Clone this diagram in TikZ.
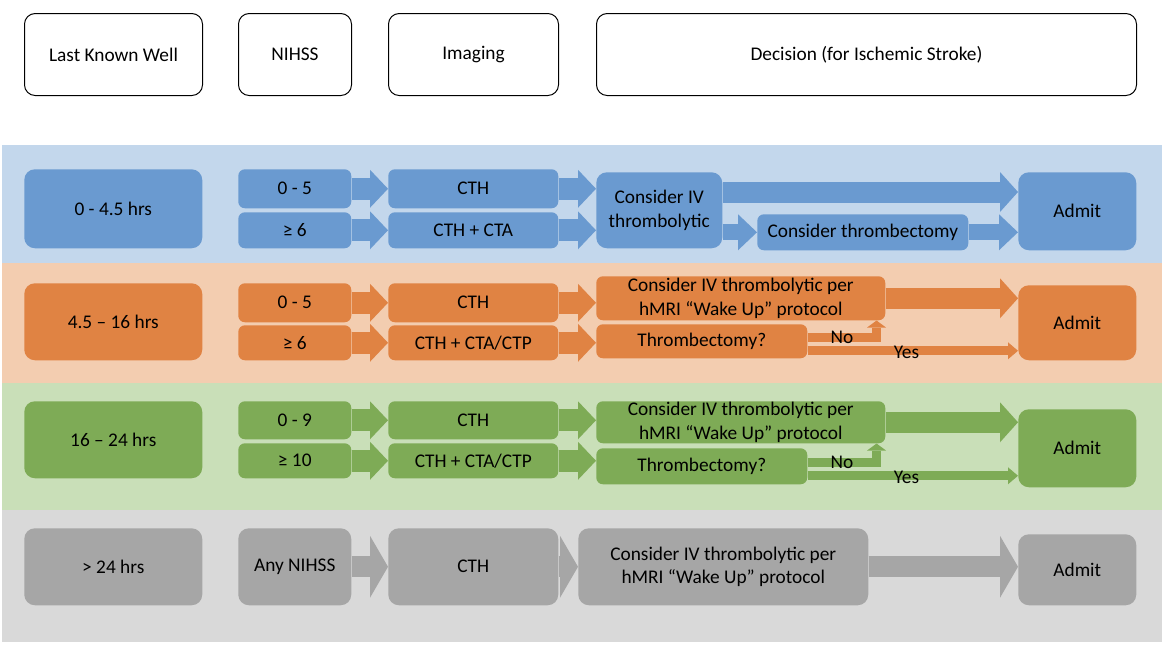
\documentclass[tikz,border=0pt]{standalone}
\usepackage{fontspec}
\setmainfont{Carlito}
\usepackage{xcolor}
\usetikzlibrary{arrows.meta,calc,positioning}
\definecolor{bandB}{HTML}{C3D7EC}
\definecolor{boxB}{HTML}{6A9AD0}
\definecolor{bandO}{HTML}{F3CDB0}
\definecolor{boxO}{HTML}{E08343}
\definecolor{bandG}{HTML}{C9DFB8}
\definecolor{boxG}{HTML}{7EAB56}
\definecolor{bandK}{HTML}{D9D9D9}
\definecolor{boxK}{HTML}{A6A6A6}
\tikzset{
  box/.style={rounded corners=5pt, inner sep=0pt, align=center, anchor=north west,
              font=\fontsize{14.5}{17.5}\selectfont},
  sz/.style 2 args={minimum width=#1*0.75pt, minimum height=#2*0.75pt},
  big/.style={rounded corners=8pt},
  head/.style={box, big, draw=black, fill=white, line width=0.75pt},
  lbl/.style={inner sep=0pt, font=\fontsize{14.5}{17.5}\selectfont},
  blkA/.style={line width=16.5pt, -{Triangle[length=13.5pt, width=28.5pt, line width=0pt]}},
  blkL/.style={line width=15.75pt, -{Triangle[length=13.5pt, width=30pt, line width=0pt]}},
  blkS/.style={line width=12pt, -{Triangle[length=14.25pt, width=27pt, line width=0pt]}},
  blkT/.style={line width=6.75pt, -{Triangle[length=7.5pt, width=12.75pt, line width=0pt]}},
  blkN/.style={line width=6.75pt, -{Triangle[length=5.25pt, width=14.25pt, line width=0pt]}},
  blkG/.style={line width=15.75pt, -{Triangle[length=13.5pt, width=46.5pt, line width=0pt]}}
}
\begin{document}
\begin{tikzpicture}[x=0.75pt,y=-0.75pt]
  \useasboundingbox (0,0) rectangle (1164,644);

  % bands
  \fill[bandB] (2,145) rectangle (1162,263);
  \fill[bandO] (2,263) rectangle (1162,383);
  \fill[bandG] (2,383) rectangle (1162,510);
  \fill[bandK] (2,510) rectangle (1162,642);

  % header
  \node[head, sz={178}{82}] (lkw) at (24,13)  {Last Known Well};
  \node[head, sz={113}{82}] (nih) at (238,13) {NIHSS};
  \node[head, sz={170}{82}] (img) at (388,13) {Imaging};
  \node[head, sz={540}{82}] (dec) at (596,13) {Decision (for Ischemic Stroke)};

  % 0 - 4.5 hrs
  \begin{scope}[every node/.append style={fill=boxB}]
    \node[box, big, sz={178}{79}] (t1)   at (24,169)   {0 - 4.5 hrs};
    \node[box, sz={113}{39}]      (n1a)  at (238,169)  {0 - 5};
    \node[box, sz={113}{36}]      (n1b)  at (238,212)  {≥ 6};
    \node[box, sz={170}{39}]      (im1a) at (388,169)  {CTH};
    \node[box, sz={170}{36}]      (im1b) at (388,212)  {CTH + CTA};
    \node[box, big, sz={126}{76}] (dc1)  at (596,172)  {Consider IV\\thrombolytic};
    \node[box, sz={211}{36}]      (ct1)  at (757,214)  {Consider thrombectomy};
    \node[box, big, sz={118}{78}] (ad1)  at (1018,172) {Admit};
  \end{scope}
  \begin{scope}[boxB]
    \draw[blkA] (n1a.east) -- (n1a.east -| im1a.west);
    \draw[blkA] (n1b.east) -- (n1b.east -| im1b.west);
    \draw[blkA] (im1a.east) -- (im1a.east -| dc1.west);
    \draw[blkA] (im1b.east) -- (im1b.east -| dc1.west);
    \coordinate (dc1top) at ($(dc1.north east)+(0,20)$);
    \draw[blkL] (dc1top) -- (dc1top -| ad1.west);
    \draw[blkS] (dc1.east |- ct1.west) -- (ct1.west);
    \draw[blkS] (ct1.east) -- (ct1.east -| ad1.west);
  \end{scope}

  % 4.5 - 16 hrs
  \begin{scope}[every node/.append style={fill=boxO}]
    \node[box, big, sz={178}{77}] (t2)   at (24,283)   {4.5 – 16 hrs};
    \node[box, sz={113}{39}]      (n2a)  at (238,283)  {0 - 5};
    \node[box, sz={113}{35}]      (n2b)  at (238,325)  {≥ 6};
    \node[box, sz={170}{39}]      (im2a) at (388,283)  {CTH};
    \node[box, sz={170}{35}]      (im2b) at (388,325)  {CTH + CTA/CTP};
    \node[box, sz={289}{44}]      (dc2)  at (596,276)  {Consider IV thrombolytic per\\hMRI “Wake Up” protocol};
    \node[box, sz={211}{34}]      (th2)  at (596,324)  {Thrombectomy?};
    \node[box, big, sz={118}{75}] (ad2)  at (1018,285) {Admit};
  \end{scope}
  \begin{scope}[boxO]
    \draw[blkA] (n2a.east) -- (n2a.east -| im2a.west);
    \draw[blkA] (n2b.east) -- (n2b.east -| im2b.west);
    \draw[blkA] (im2a.east) -- (im2a.east -| dc2.west);
    \draw[blkA] (im2b.east) -- (im2b.east -| th2.west);
    \draw[blkL] (dc2.east) -- (dc2.east -| ad2.west);
    \coordinate (no2) at ($(dc2.south east)+(-9,0)$);
    \coordinate (yes2) at ([yshift=-7.125pt]th2.east);
    \draw[blkN] ([yshift=2.625pt]th2.east) -| node[lbl, black, pos=0.25] {No} (no2);
    \draw[blkT] (yes2) -- node[lbl, black, pos=0.47, yshift=-1pt] {Yes} (yes2 -| ad2.west);
  \end{scope}

  % 16 - 24 hrs
  \begin{scope}[every node/.append style={fill=boxG}]
    \node[box, big, sz={178}{77}] (t3)   at (24,401)   {16 – 24 hrs};
    \node[box, sz={113}{38}]      (n3a)  at (238,401)  {0 - 9};
    \node[box, sz={113}{35}]      (n3b)  at (238,443)  {≥ 10};
    \node[box, sz={170}{38}]      (im3a) at (388,401)  {CTH};
    \node[box, sz={170}{35}]      (im3b) at (388,443)  {CTH + CTA/CTP};
    \node[box, sz={289}{42}]      (dc3)  at (596,401)  {Consider IV thrombolytic per\\hMRI “Wake Up” protocol};
    \node[box, sz={211}{36}]      (th3)  at (596,448)  {Thrombectomy?};
    \node[box, big, sz={118}{78}] (ad3)  at (1018,409) {Admit};
  \end{scope}
  \begin{scope}[boxG]
    \draw[blkA] (n3a.east) -- (n3a.east -| im3a.west);
    \draw[blkA] (n3b.east) -- (n3b.east -| im3b.west);
    \draw[blkA] (im3a.east) -- (im3a.east -| dc3.west);
    \draw[blkA] (im3b.east) -- (im3b.east -| th3.west);
    \draw[blkL] (dc3.east) -- (dc3.east -| ad3.west);
    \coordinate (no3) at ($(dc3.south east)+(-9,0)$);
    \coordinate (yes3) at ([yshift=-7.125pt]th3.east);
    \draw[blkN] ([yshift=2.625pt]th3.east) -| node[lbl, black, pos=0.25] {No} (no3);
    \draw[blkT] (yes3) -- node[lbl, black, pos=0.47, yshift=-1pt] {Yes} (yes3 -| ad3.west);
  \end{scope}

  % > 24 hrs
  \begin{scope}[every node/.append style={fill=boxK}]
    \node[box, big, sz={178}{77}] (t4)  at (24,528)   {> 24 hrs};
    \node[box, big, sz={113}{77}] (n4)  at (238,528)  {Any NIHSS};
    \node[box, big, sz={170}{77}] (im4) at (388,528)  {CTH};
    \node[box, big, sz={290}{77}] (dc4) at (578,528)  {Consider IV thrombolytic per\\hMRI “Wake Up” protocol};
    \node[box, big, sz={118}{71}] (ad4) at (1018,534) {Admit};
  \end{scope}
  \begin{scope}[boxK]
    \draw[blkG] (n4.east) -- (n4.east -| im4.west);
    \draw[blkG] (im4.east) -- (im4.east -| dc4.west);
    \draw[blkG] (dc4.east) -- (dc4.east -| ad4.west);
  \end{scope}
\end{tikzpicture}
\end{document}
